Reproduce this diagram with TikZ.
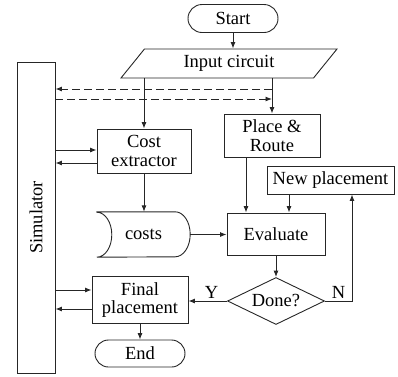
\documentclass[tikz,border=0pt]{standalone}
\usepackage{fontspec}
\setmainfont{Liberation Serif}
\usetikzlibrary{arrows.meta,shapes.geometric,shapes.misc}

\begin{document}
\begin{tikzpicture}[
        x=1bp,y=1bp,
        font=\fontsize{18.5bp}{18.5bp}\selectfont,
        box/.style={rectangle,draw=black!85,line width=0.9bp,align=center,inner sep=0pt},
        term/.style={rounded rectangle,draw=black!85,line width=0.9bp,inner sep=0pt,minimum width=90bp},
        io/.style={trapezium,trapezium left angle=34.6,trapezium right angle=145.4,trapezium stretches body,draw=black!85,line width=0.9bp,inner sep=0pt},
        decision/.style={diamond,aspect=2,draw=black!85,line width=0.9bp,inner sep=0pt},
        store/.style={rectangle,inner sep=0pt},
        edge/.style={-{Latex[length=6.5bp,width=5bp]},line width=0.9bp,draw=black!85},
        dashedge/.style={edge,dash pattern=on 8bp off 4bp}
    ]
        \useasboundingbox (0,0) rectangle (398,-377);

        % Define the nodes
        \node[box,minimum width=38bp,minimum height=311bp] (sim) at (36,-217.5) {};
        \node[rotate=90] (simtext) at (sim.center) {Simulator};
        \node[term,minimum height=28bp] (start) at (233,-18.5) {Start};
        \node[io,minimum width=216bp,minimum height=29bp] (inp) at (229,-63.5) {Input circuit};
        \node[box,minimum width=94bp,minimum height=44bp] (cost) at (144,-151) {Cost\\extractor};
        \node[box,minimum width=96bp,minimum height=43bp] (route) at (272,-135.5) {Place \&\\Route};
        \node[box,minimum width=127bp,minimum height=28bp] (newpl) at (330.5,-180) {New placement};
        \node[box,minimum width=98bp,minimum height=42bp] (eval) at (276,-234) {Evaluate};
        \node[store,minimum width=93bp,minimum height=45bp] (costs) at (143.5,-234.5) {costs};
        \node[decision,minimum width=97bp,minimum height=47bp] (done) at (276,-301) {Done?};
        \node[box,minimum width=96bp,minimum height=47bp] (final) at (140,-300) {Final\\placement};
        \node[term,minimum height=27bp] (end) at (140,-353.5) {End};
        \coordinate (dup) at (272,-89);
        \coordinate (dlow) at (272,-99);

        % Stored data outline for the costs
        \draw[line width=0.9bp,draw=black!85] (costs.north west) -- ([xshift=-15bp]costs.north east)
            arc[start angle=90,end angle=-90,x radius=15bp,y radius=22.5bp] -- (costs.south west)
            arc[start angle=-90,end angle=90,x radius=15bp,y radius=22.5bp] -- cycle;

        % Draw the main flow
        \draw[edge] (start.south) -- (start.south |- inp.north);
        \draw[edge] (cost.north |- inp.south) -- (cost.north);
        \draw[edge] (route.north |- inp.south) -- (route.north);
        \draw[edge] (cost.south) -- (cost.south |- costs.north);
        \draw[edge] (costs.east) -- (costs.east -| eval.west);
        \draw[edge] ([xshift=-26bp]route.south) -- ([xshift=-26bp]route.south |- eval.north);
        \draw[edge] ([xshift=-41.5bp]newpl.south) -- ([xshift=-41.5bp]newpl.south |- eval.north);
        \draw[edge] (eval.south) -- (done.north);
        \draw[edge] (done.east) -| node[pos=0.25,above,inner sep=2bp] {N} ([xshift=21.5bp]newpl.south);
        \draw[edge] (done.west) -- node[pos=0.4,above,inner sep=2bp] {Y} (done.west -| final.east);
        \draw[edge] (final.south) -- (end.north);

        % Links with the simulator
        \draw[dashedge] (dup) -- (dup -| sim.east);
        \draw[dashedge] (dlow -| sim.east) -- (dlow);
        \draw[edge] ([yshift=1bp]cost.west -| sim.east) -- ([yshift=1bp]cost.west);
        \draw[edge] ([yshift=-12bp]cost.west) -- ([yshift=-12bp]cost.west -| sim.east);
        \draw[edge] ([yshift=10bp]final.west -| sim.east) -- ([yshift=10bp]final.west);
        \draw[edge] ([yshift=-9bp]final.west) -- ([yshift=-9bp]final.west -| sim.east);
    \end{tikzpicture}
\end{document}
